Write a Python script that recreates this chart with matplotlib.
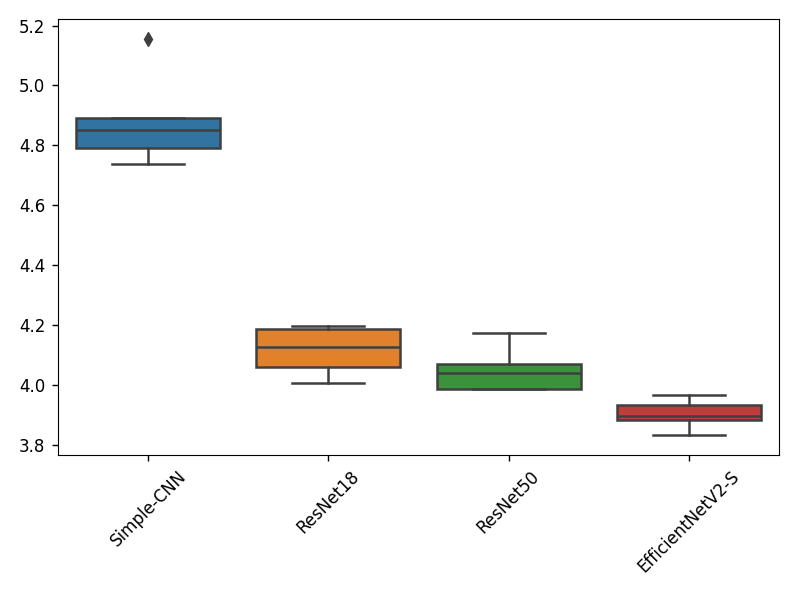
import numpy as np
import matplotlib
matplotlib.use("Agg")
import matplotlib.pyplot as plt

models = ["Simple-CNN", "ResNet18", "ResNet50", "EfficientNetV2-S"]
simple_cnn = [4.736, 4.79, 4.85, 4.89, 5.154]
resnet18 = [4.006, 4.058, 4.127, 4.187, 4.197]
resnet50 = [3.986, 3.987, 4.038, 4.069, 4.174]
effnet = [3.831, 3.882, 3.894, 3.933, 3.967]
colors = ["#3274a1", "#e1812c", "#3a923a", "#c03d3e"]

data = [simple_cnn, resnet18, resnet50, effnet]
line_c = "#3f3f3f"
lw = 1.8

fig = plt.figure(figsize=(7.97, 5.98), dpi=100)
ax = fig.add_axes([58 / 797, 1 - 455 / 598, (779 - 58) / 797, (455 - 19) / 598])

bp = ax.boxplot(
    data,
    positions=np.arange(len(models)),
    widths=0.8,
    patch_artist=True,
    whis=1.5,
    boxprops=dict(edgecolor=line_c, linewidth=lw),
    medianprops=dict(color=line_c, linewidth=lw),
    whiskerprops=dict(color=line_c, linewidth=lw),
    capprops=dict(color=line_c, linewidth=lw),
    flierprops=dict(marker="d", markerfacecolor=line_c, markeredgecolor=line_c, markersize=7),
    capwidths=0.4,
)
for patch, c in zip(bp["boxes"], colors):
    patch.set_facecolor(c)

ax.set_xlim(-0.5, len(models) - 0.5)
ax.set_ylim(3.765, 5.222)
ax.set_yticks([3.8, 4.0, 4.2, 4.4, 4.6, 4.8, 5.0, 5.2])
ax.set_xticks(np.arange(len(models)))
ax.set_xticklabels(models, rotation=45, fontsize=12)
ax.tick_params(axis="y", labelsize=12)
ax.tick_params(axis="both", length=4.5, width=1, pad=4.5)

fig.savefig("out.png", dpi=100)
